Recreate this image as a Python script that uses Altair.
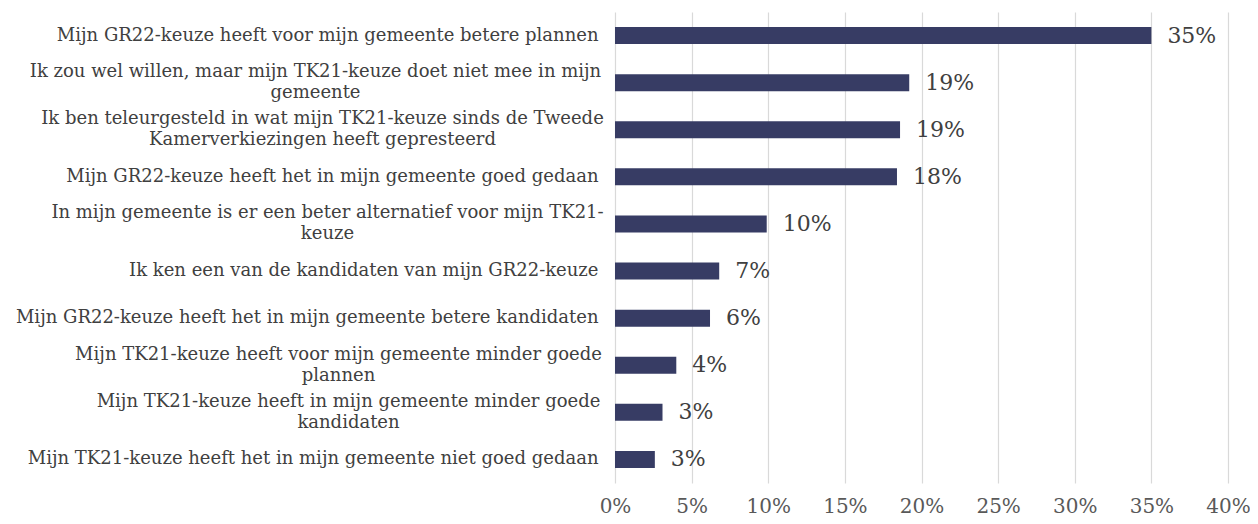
import altair as alt
import pandas as pd

categories = [
    "Mijn GR22-keuze heeft voor mijn gemeente betere plannen",
    "Ik zou wel willen, maar mijn TK21-keuze doet niet mee in mijn|gemeente",
    "Ik ben teleurgesteld in wat mijn TK21-keuze sinds de Tweede|Kamerverkiezingen heeft gepresteerd",
    "Mijn GR22-keuze heeft het in mijn gemeente goed gedaan",
    "In mijn gemeente is er een beter alternatief voor mijn TK21-|keuze",
    "Ik ken een van de kandidaten van mijn GR22-keuze",
    "Mijn GR22-keuze heeft het in mijn gemeente betere kandidaten",
    "Mijn TK21-keuze heeft voor mijn gemeente minder goede|plannen",
    "Mijn TK21-keuze heeft in mijn gemeente minder goede|kandidaten",
    "Mijn TK21-keuze heeft het in mijn gemeente niet goed gedaan",
]
values = [35.0, 19.2, 18.6, 18.4, 9.9, 6.8, 6.2, 4.0, 3.1, 2.6]
x_ticks = [0, 5, 10, 15, 20, 25, 30, 35, 40]

df = pd.DataFrame({"category": categories, "value": values})

FONT = "DejaVu Serif"
BAR = "#373c64"
TXT = "#404040"
BASE_PAD = 17
LINE_H = 21

# wrapped labels are centred blocks whose widest line ends at the same right edge;
# half-widths (px) of the widest line of each wrapped label
half_width = {
    categories[1]: 283,
    categories[2]: 276,
    categories[4]: 271,
    categories[7]: 260,
    categories[8]: 250,
}

def esc(s):
    return s.replace("\\", "\\\\").replace("'", "\\'")

pad_conditions = [
    {"test": f"datum.value === '{esc(k)}'", "value": BASE_PAD + v}
    for k, v in half_width.items()
]
wrapped = "indexof(datum.value, '|') >= 0"

y_axis = alt.Axis(
    title=None, domain=False, ticks=False, grid=False,
    labelExpr="split(datum.label, '|')",
    labelFont=FONT, labelFontSize=18, labelColor=TXT,
    labelLimit=0, labelLineHeight=LINE_H,
    labelAlign={"condition": {"test": wrapped, "value": "center"}, "value": "right"},
    labelOffset={"condition": {"test": wrapped, "value": -LINE_H / 2}, "value": 0},
    labelPadding={"condition": pad_conditions, "value": BASE_PAD},
)

base = alt.Chart(df).encode(
    y=alt.Y("category:N", sort=categories, axis=y_axis,
            scale=alt.Scale(paddingInner=0.64, paddingOuter=0.32)),
)

bars = base.mark_bar(color=BAR).encode(
    x=alt.X("value:Q", scale=alt.Scale(domain=[0, 40]),
            axis=alt.Axis(values=x_ticks, title=None, labelExpr="datum.value + '%'",
                          domain=False, ticks=False, grid=True, gridColor="#d9d9d9",
                          gridWidth=1.2, labelFont=FONT, labelFontSize=20,
                          labelColor="#595959", labelPadding=13, labelFlush=False)),
)

text = base.mark_text(align="left", baseline="middle", dx=16, fontSize=22,
                      font=FONT, color=TXT).transform_calculate(
    lbl="format(datum.value, '.0f') + '%'"
).encode(x="value:Q", text="lbl:N")

chart = (bars + text).properties(
    width=613, height=471,
    padding={"left": 607, "top": 4, "right": 22, "bottom": 33},
    autosize=alt.AutoSizeParams(type="none"),
).configure_view(stroke=None)

chart.save("out.html", embed_options={"renderer": "svg", "actions": False})
